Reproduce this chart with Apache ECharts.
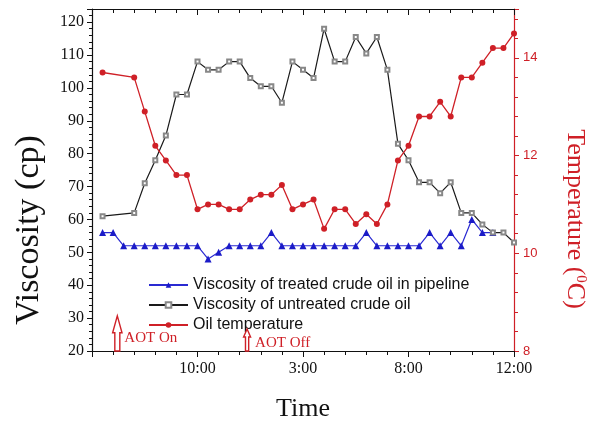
<!DOCTYPE html>
<html>
<head>
<meta charset="utf-8">
<title>Viscosity and oil temperature</title>
<script src="https://cdn.jsdelivr.net/npm/echarts@6/dist/echarts.min.js"></script>
<style>
html, body { margin: 0; padding: 0; background: #fff; }
#main { width: 594px; height: 421px; }
</style>
</head>
<body>
<div id="main"></div>
<script>
// x is the sample number, one sample every half minor tick
var timeTicks = [0, 10, 20, 30, 40];
var timeLabels = ['', '10:00', '3:00', '8:00', '12:00'];

var treatedX = [1, 2, 3, 4, 5, 6, 7, 8, 9, 10, 11, 12, 13, 14, 15, 16, 17, 18, 19,
                20, 21, 22, 23, 24, 25, 26, 27, 28, 29, 30, 31, 32, 33, 34, 35, 36, 37, 38];
var treatedVis = [56, 56, 52, 52, 52, 52, 52, 52, 52, 52, 48, 50, 52, 52, 52, 52, 56, 52, 52,
                  52, 52, 52, 52, 52, 52, 56, 52, 52, 52, 52, 52, 56, 52, 56, 52, 60, 56, 56];

var untreatedX = [1, 4, 5, 6, 7, 8, 9, 10, 11, 12, 13, 14, 15, 16, 17, 18, 19, 20, 21,
                  22, 23, 24, 25, 26, 27, 28, 29, 30, 31, 32, 33, 34, 35, 36, 37, 38, 39, 40];
var untreatedVis = [61, 62, 71, 78, 85.5, 98, 98, 108, 105.5, 105.5, 108, 108, 103, 100.5, 100.5, 95.5, 108, 105.5, 103,
                    118, 108, 108, 115.5, 110.5, 115.5, 105.5, 83, 78, 71.3, 71.3, 68, 71.3, 62, 62, 58.5, 56, 56, 53];

var tempX = [1, 4, 5, 6, 7, 8, 9, 10, 11, 12, 13, 14, 15, 16, 17, 18, 19, 20, 21,
             22, 23, 24, 25, 26, 27, 28, 29, 30, 31, 32, 33, 34, 35, 36, 37, 38, 39, 40];
var tempVal = [13.7, 13.6, 12.9, 12.2, 11.9, 11.6, 11.6, 10.9, 11.0, 11.0, 10.9, 10.9, 11.1, 11.2, 11.2, 11.4, 10.9, 11.0, 11.1,
               10.5, 10.9, 10.9, 10.6, 10.8, 10.6, 11.0, 11.9, 12.2, 12.8, 12.8, 13.1, 12.8, 13.6, 13.6, 13.9, 14.2, 14.2, 14.5];

// AOT switch marks: sample position, arrow tip (viscosity units), label
var aotX = [2.4, 14.7];
var aotTip = [30.7, 26.7];
var aotText = ['AOT On', 'AOT Off'];

var serif = '"Liberation Serif", "Times New Roman", serif';
var sans = '"Liberation Sans", Arial, sans-serif';
var red = '#cf2027';
var ink = '#111';

function zip(xs, ys) {
    return xs.map(function (x, i) { return [x, ys[i]]; });
}

var chart = echarts.init(document.getElementById('main'));

var option = {
    animation: false,
    grid: { left: 92, right: 80, top: 9, bottom: 70, outerBoundsMode: 'none' },
    legend: {
        orient: 'vertical',
        left: 143,
        top: 270,
        itemWidth: 39,
        itemHeight: 7,
        itemGap: 0,
        textStyle: { fontFamily: sans, fontSize: 16, color: ink, lineHeight: 20 },
        data: ['Viscosity of treated crude oil in pipeline', 'Viscosity of untreated crude oil', 'Oil temperature']
    },
    xAxis: [
        {
            type: 'value', min: 0, max: 40, interval: 10, position: 'bottom',
            axisLine: { onZero: false, lineStyle: { color: ink, width: 1.2 } },
            axisTick: { length: 6, lineStyle: { color: ink } },
            minorTick: { show: true, splitNumber: 5, length: 4, lineStyle: { color: ink } },
            splitLine: { show: false },
            axisLabel: {
                margin: 10, fontFamily: serif, fontSize: 16, color: ink,
                formatter: function (v) {
                    var i = timeTicks.indexOf(v);
                    return i < 0 ? '' : timeLabels[i];
                }
            },
            name: 'Time', nameLocation: 'middle', nameGap: 45,
            nameTextStyle: { fontFamily: serif, fontSize: 26, color: ink }
        },
        {
            type: 'value', min: 0, max: 40, interval: 10, position: 'top',
            axisLine: { onZero: false, lineStyle: { color: ink, width: 1.2 } },
            axisTick: { inside: true, length: 6, lineStyle: { color: ink } },
            minorTick: { show: true, splitNumber: 5, length: 4, lineStyle: { color: ink } },
            splitLine: { show: false },
            axisLabel: { show: false }
        }
    ],
    yAxis: [
        {
            type: 'value', min: 20, max: 124, interval: 10, position: 'left',
            axisLine: { show: true, onZero: false, lineStyle: { color: ink, width: 1.2 } },
            axisTick: { show: true, length: 5, lineStyle: { color: ink } },
            minorTick: { show: true, splitNumber: 5, length: 3, lineStyle: { color: ink } },
            splitLine: { show: false },
            axisLabel: { margin: 8, fontFamily: serif, fontSize: 16, color: ink, showMaxLabel: false }
        },
        {
            type: 'value', min: 8, max: 15, interval: 2, position: 'right',
            axisLine: { show: true, onZero: false, lineStyle: { color: red, width: 1.2 } },
            axisTick: { show: true, length: 5, lineStyle: { color: red } },
            minorTick: { show: true, splitNumber: 5, length: 4, lineStyle: { color: red } },
            splitLine: { show: false },
            axisLabel: { margin: 9, fontFamily: sans, fontSize: 13, color: red, showMaxLabel: false }
        }
    ],
    series: [
        {
            name: 'Viscosity of treated crude oil in pipeline',
            type: 'line', xAxisIndex: 0, yAxisIndex: 0,
            data: zip(treatedX, treatedVis),
            symbol: 'triangle', symbolSize: 7,
            itemStyle: { color: '#1b1bc8' },
            lineStyle: { color: '#2a2ad2', width: 1.2 }
        },
        {
            name: 'Viscosity of untreated crude oil',
            type: 'line', xAxisIndex: 0, yAxisIndex: 0,
            data: zip(untreatedX, untreatedVis),
            symbol: 'emptyRect', symbolSize: 4,
            itemStyle: { color: '#888', borderWidth: 0.8 },
            lineStyle: { color: '#1a1a1a', width: 1.2 }
        },
        {
            name: 'Oil temperature',
            type: 'line', xAxisIndex: 0, yAxisIndex: 1,
            data: zip(tempX, tempVal),
            symbol: 'circle', symbolSize: 6,
            itemStyle: { color: red },
            lineStyle: { color: red, width: 1.3 }
        }
    ]
};

chart.setOption(option);

// arrows for the AOT switch points, placed through the axes
var arrowSize = [{ hw: 4.7, sw: 2.5, hl: 17, dx: 7, dy: -5 }, { hw: 3.5, sw: 1.6, hl: 8, dx: 8, dy: 0 }];
var graphics = [];
aotX.forEach(function (x, i) {
    var tip = chart.convertToPixel({ xAxisIndex: 0, yAxisIndex: 0 }, [x, aotTip[i]]);
    var base = chart.convertToPixel({ xAxisIndex: 0, yAxisIndex: 0 }, [x, 20]);
    var s = arrowSize[i];
    var px = tip[0], py = tip[1], pb = base[1];
    graphics.push({
        type: 'polygon',
        shape: {
            points: [[px, py], [px + s.hw, py + s.hl], [px + s.sw, py + s.hl], [px + s.sw, pb],
                     [px - s.sw, pb], [px - s.sw, py + s.hl], [px - s.hw, py + s.hl]]
        },
        style: { fill: '#fff', stroke: red, lineWidth: 1.4 },
        z: 10
    });
    graphics.push({
        type: 'text',
        x: px + s.dx, y: pb + s.dy,
        style: { text: aotText[i], fontFamily: serif, fontSize: 15, fill: red, align: 'left', verticalAlign: 'bottom' },
        z: 10
    });
});

// axis titles
graphics.push({
    type: 'text', x: 29, y: 230, rotation: Math.PI / 2,
    style: { text: 'Viscosity (cp)', fontFamily: serif, fontSize: 34, fill: ink, align: 'center', verticalAlign: 'middle' }
});
graphics.push({
    type: 'text', x: 575, y: 219, rotation: -Math.PI / 2,
    style: {
        text: 'Temperature ({sup|0}C)', fontFamily: serif, fontSize: 26, fill: red,
        align: 'center', verticalAlign: 'middle',
        rich: { sup: { fontFamily: serif, fontSize: 15, fill: red, verticalAlign: 'top' } }
    }
});

chart.setOption({ graphic: graphics });
</script>
</body>
</html>
